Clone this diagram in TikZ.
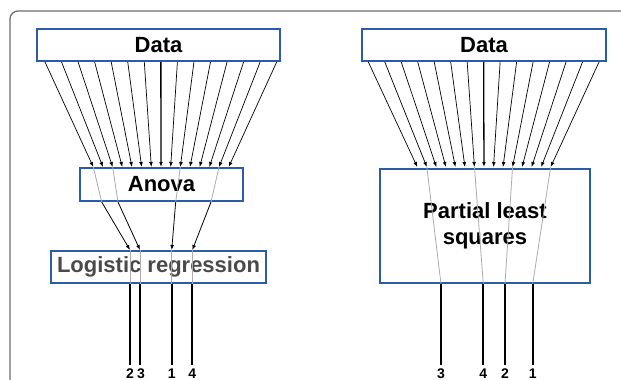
\documentclass[tikz,border=0pt]{standalone}
\usepackage{fontspec}
\setmainfont{Liberation Sans}
\usetikzlibrary{arrows.meta}
\definecolor{boxblue}{HTML}{2A5CAA}
\definecolor{framegray}{HTML}{6E6E6E}
\definecolor{thrugray}{HTML}{ABABAB}
\definecolor{textgray}{HTML}{4A4A4A}
\begin{document}
\begin{tikzpicture}[x=1pt,y=-1pt,
  box/.style={draw=boxblue, line width=2.2pt, fill=white, inner sep=0pt,
    font=\fontsize{22}{25.7}\selectfont\bfseries, align=center},
  feed/.style={-{Latex[length=5pt,width=3.8pt]}, line width=0.7pt},
  feedmain/.style={feed, line width=1.3pt},
  through/.style={draw=thrugray, line width=0.8pt},
  pick/.style={-{Latex[length=5pt,width=3.8pt]}, line width=0.8pt},
  outline/.style={line width=2.2pt},
  lbl/.style={font=\fontsize{14}{14}\selectfont\bfseries, inner sep=0pt, anchor=base}]
\useasboundingbox (0,0) rectangle (621,380);
% frame
\draw[framegray, line width=1.3pt, rounded corners=8pt] (10,380) -- (10,11) -- (621,11);

% ---------- left panel ----------
\node[box, minimum width=243pt, minimum height=32pt] (dataL) at (158.5,45) {Data};
\node[box, minimum width=163pt, minimum height=33pt] (anova) at (161.5,184.5) {Anova};
\node[box, minimum width=215pt, minimum height=32pt, text=textgray] (logreg) at (158.5,267) {Logistic regression};

\foreach \i in {0,...,14}{
  \coordinate (ls\i) at ({45+\i*16.55},62);
  \coordinate (le\i) at ({93.3+\i*9.67},167);
}
\foreach \i in {0,...,6,8,9,10,11,12,13,14}{
  \draw[feed] (ls\i) -- (le\i);
}
\draw[feedmain] (ls7) -- (le7);

% selected features through Anova
\coordinate (ab1) at (101.7,202);
\coordinate (ab2) at (118,202);
\coordinate (ab3) at (175.7,202);
\coordinate (ab4) at (211,202);
\coordinate (lt1) at (130,250);
\coordinate (lt2) at (140,250);
\coordinate (lt3) at (171.7,250);
\coordinate (lt4) at (192.3,250);
\coordinate (lb1) at (130,284);
\coordinate (lb2) at (140,284);
\coordinate (lb3) at (171.7,284);
\coordinate (lb4) at (192.3,284);
\coordinate (lx1) at (130,365);
\coordinate (lx2) at (140,365);
\coordinate (lx3) at (171.7,365);
\coordinate (lx4) at (192.3,365);

\draw[through] (le0) -- (ab1);
\draw[through] (le2) -- (ab2);
\draw[through] (le9) -- (ab3);
\draw[through] (le13) -- (ab4);
\foreach \k in {1,2,3,4}{
  \draw[pick] (ab\k) -- (lt\k);
  \draw[through] (lt\k) -- (lb\k);
  \draw[outline] (lb\k) -- (lx\k);
}
\node[lbl] (lnA) at (130,378) {2};
\node[lbl] (lnB) at (141,378) {3};
\node[lbl] (lnC) at (171.7,378) {1};
\node[lbl] (lnD) at (192.3,378) {4};

% ---------- right panel ----------
\node[box, minimum width=244pt, minimum height=32pt] (dataR) at (484,45) {Data};
\node[box, minimum width=210pt, minimum height=114pt] (pls) at (485,226) {Partial least\\squares};

\foreach \i in {0,...,14}{
  \coordinate (rs\i) at ({368.3+\i*16.48},62);
  \coordinate (re\i) at ({417.3+\i*9.525},167);
}
\foreach \i in {0,...,6,8,9,10,11,12,13,14}{
  \draw[feed] (rs\i) -- (re\i);
}
\draw[feedmain] (rs7) -- (re7);

\coordinate (pb1) at (441,284);
\coordinate (pb2) at (483.3,284);
\coordinate (pb3) at (505,284);
\coordinate (pb4) at (532.7,284);
\coordinate (px1) at (441,365);
\coordinate (px2) at (483.3,365);
\coordinate (px3) at (505,365);
\coordinate (px4) at (532.7,365);
\draw[through] (re1) -- (pb1);
\draw[through] (re6) -- (pb2);
\draw[through] (re10) -- (pb3);
\draw[through] (re14) -- (pb4);
\foreach \k in {1,2,3,4}{
  \draw[outline] (pb\k) -- (px\k);
}
\node[lbl] (rnA) at (441,378) {3};
\node[lbl] (rnB) at (483.3,378) {4};
\node[lbl] (rnC) at (505,378) {2};
\node[lbl] (rnD) at (532.7,378) {1};
\end{tikzpicture}
\end{document}
